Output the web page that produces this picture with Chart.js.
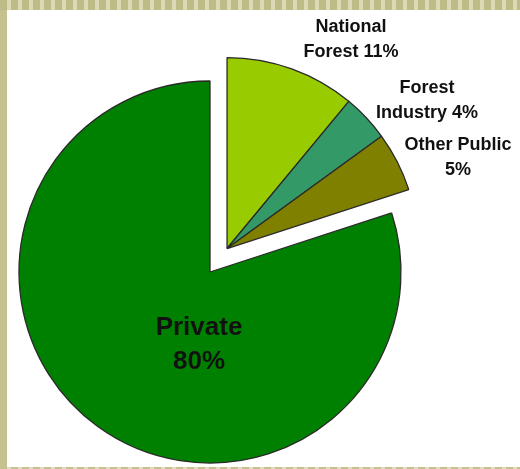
<!DOCTYPE html>
<html>
<head>
<meta charset="utf-8">
<script src="https://cdn.jsdelivr.net/npm/chart.js@4/dist/chart.umd.min.js"></script>
<style>
  html, body { margin: 0; padding: 0; }
  body { width: 520px; height: 469px; position: relative; overflow: hidden; background: #c6c290; }
  .top { position: absolute; left: 0; top: 0; width: 520px; height: 10px;
    background: repeating-linear-gradient(90deg, #bdbb86 0px, #bdbb86 7px, #dcd9b4 7px, #dcd9b4 11px); }
  .bottom { position: absolute; left: 0; top: 467px; width: 520px; height: 2px;
    background: repeating-linear-gradient(90deg, #c4c090 0px, #c4c090 7px, #e0ddbc 7px, #e0ddbc 11px); }
  .inner { position: absolute; left: 7px; top: 10px; width: 513px; height: 457px; background: #fff; }
  #wrap { position: absolute; left: 0; top: 0; width: 520px; height: 469px; }
</style>
</head>
<body>
<div class="top"></div>
<div class="inner"></div>
<div class="bottom"></div>
<div id="wrap"><canvas id="chart" width="520" height="469"></canvas></div>
<script>
const categories = ['National Forest', 'Forest Industry', 'Other Public', 'Private'];
const shares = [11, 4, 5, 80];
const sliceColors = ['#99cc00', '#339966', '#808000', '#008000'];
const pulledOut = [true, true, true, false];
const labelLines = [
  ['National', 'Forest 11%'],
  ['Forest', 'Industry 4%'],
  ['Other Public', '5%'],
  ['Private', '80%']
];

// move the pulled-out slices together, along the middle of the group
const explodePlugin = {
  id: 'explode',
  afterUpdate(chart) {
    const meta = chart.getDatasetMeta(0);
    const total = shares.reduce((a, b) => a + b, 0);
    let groupSum = 0;
    shares.forEach((v, i) => { if (pulledOut[i]) groupSum += v; });
    const mid = (groupSum / 2) / total * Math.PI * 2;
    const dist = 29;
    meta.data.forEach((arc, i) => {
      if (pulledOut[i]) {
        arc.x += dist * Math.sin(mid);
        arc.y -= dist * Math.cos(mid);
      }
    });
  }
};

const labelPlugin = {
  id: 'labels',
  afterDraw(chart) {
    const ctx = chart.ctx;
    const spots = [
      { x: 351, y: 27, size: 18, gap: 25 },
      { x: 427, y: 88, size: 18, gap: 25 },
      { x: 458, y: 145, size: 18, gap: 25 },
      { x: 199, y: 328, size: 26, gap: 34 }
    ];
    ctx.save();
    ctx.fillStyle = '#111';
    ctx.textAlign = 'center';
    ctx.textBaseline = 'middle';
    labelLines.forEach((lines, i) => {
      const s = spots[i];
      ctx.font = 'bold ' + s.size + 'px "Liberation Sans", Arial, sans-serif';
      lines.forEach((t, j) => ctx.fillText(t, s.x, s.y + j * s.gap));
    });
    ctx.restore();
  }
};

new Chart(document.getElementById('chart'), {
  type: 'pie',
  data: {
    labels: categories,
    datasets: [{
      data: shares,
      backgroundColor: sliceColors,
      borderColor: '#2a2a2a',
      borderWidth: 1.3,
      radius: 191
    }]
  },
  options: {
    responsive: false,
    animation: false,
    layout: { padding: { left: 20, right: 120, top: 82, bottom: 7 } },
    plugins: {
      legend: { display: false },
      tooltip: { enabled: false }
    }
  },
  plugins: [explodePlugin, labelPlugin]
});
</script>
</body>
</html>
